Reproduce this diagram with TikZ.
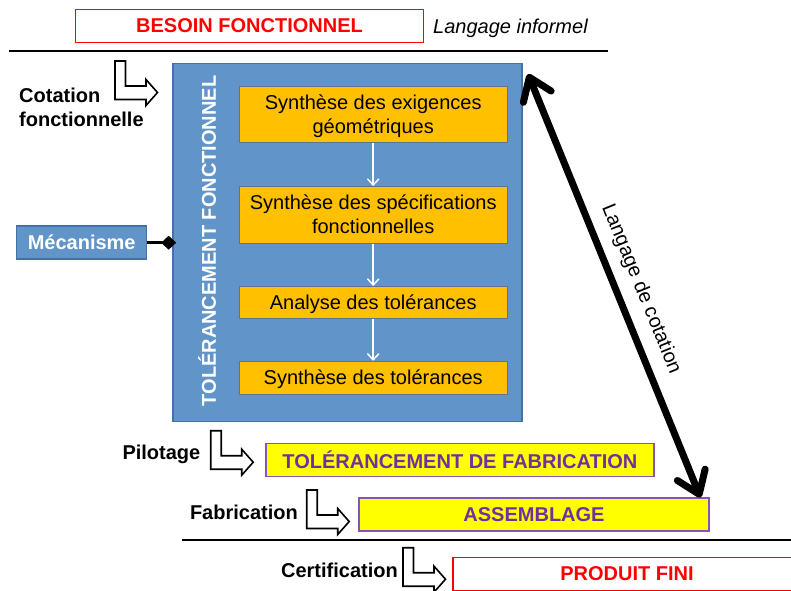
\documentclass[tikz,border=0pt]{standalone}
\usepackage{fontspec}
\setmainfont{Liberation Sans}
\usetikzlibrary{arrows.meta,shapes.geometric}
\definecolor{bred}{RGB}{255,0,0}
\definecolor{bblue}{RGB}{97,149,201}
\definecolor{bblueb}{RGB}{68,114,168}
\definecolor{borange}{RGB}{255,192,0}
\definecolor{borangeb}{RGB}{95,115,145}
\definecolor{byellow}{RGB}{255,255,0}
\definecolor{bpurple}{RGB}{112,48,160}
\definecolor{bpurpleb}{RGB}{135,85,185}
\begin{document}
\begin{tikzpicture}[x=1pt,y=-1pt,
  every node/.style={font=\fontsize{20}{24}\selectfont, inner sep=0pt},
  redbox/.style={draw=bred, line width=1.8pt, fill=white, minimum width=348pt, minimum height=33pt, text=bred, font=\fontsize{20}{24}\selectfont\bfseries},
  yelbox/.style={draw=bpurpleb, line width=1.8pt, fill=byellow, minimum height=33pt, text=bpurple, font=\fontsize{20}{24}\selectfont\bfseries},
  bluebox/.style={draw=bblueb, line width=1.5pt, fill=bblue},
  orbox/.style={draw=borangeb, line width=0.8pt, fill=borange, minimum width=268pt, align=center},
  oneline/.style={text height=14.3pt, text depth=0pt},
  twoline/.style={text height=37.6pt, text depth=0pt},
  lbl/.style={font=\fontsize{20}{24}\selectfont\bfseries},
  flow/.style={draw=white, line width=1.5pt, -{Straight Barb[length=6pt,width=11pt,line cap=round,line join=round]}},
  bigtip/.tip={Straight Barb[length=21pt,width=30pt,line cap=round,line join=round]},
  larrow/.pic={\draw[black, fill=white, line width=1.6pt, line join=miter]
     (0,0) -- (10.5,0) -- (10.5,25) -- (31,25) -- (31,18.5) -- (42.5,31.5) -- (31,44.5) -- (31,38.5) -- (0,38.5) -- cycle;}
]
\useasboundingbox (0,0) rectangle (791,590);
\clip (0,0) rectangle (791,590);

% top
\node[redbox] (besoin) at (249.5,26) {BESOIN FONCTIONNEL};
\node[anchor=base west, font=\fontsize{20}{24}\selectfont\itshape] (informel) at (433,33.5) {Langage informel};
\draw[line width=2pt] (8.5,50.7) -- (607.5,50.7);

% blue block
\node[bluebox, minimum width=349pt, minimum height=358pt] (tol) at (347.4,242.5) {};
\node[rotate=90, text=white, font=\fontsize{20}{24}\selectfont\bfseries] (toltxt) at (207,241) {TOLÉRANCEMENT FONCTIONNEL};
\node[orbox, twoline, minimum height=56pt] (s1) at (373.2,114.7) {Synthèse des exigences\\géométriques};
\node[orbox, twoline, minimum height=57pt] (s2) at (373.2,214.7) {Synthèse des spécifications\\fonctionnelles};
\node[orbox, oneline, minimum height=32pt] (s3) at (373.2,302.2) {Analyse des tolérances};
\node[orbox, oneline, minimum height=33pt] (s4) at (373.2,377.5) {Synthèse des tolérances};
\draw[flow] (s1.south) -- (s2.north);
\draw[flow] (s2.south) -- (s3.north);
\draw[flow] (s3.south) -- (s4.north);

% mecanisme
\node[bluebox, minimum width=130pt, minimum height=33pt, text=white, font=\fontsize{20}{24}\selectfont\bfseries] (meca) at (81.7,242.7) {Mécanisme};
\draw[line width=2.5pt, -{Diamond[length=15pt,width=14pt]}, shorten >=-4pt] (meca.east) -- (meca.east -| tol.west);

% cotation fonctionnelle
\node[lbl, anchor=west, align=left] (cotf) at (19,107) {Cotation\\fonctionnelle};
\pic at (115,61) {larrow};

% lower levels
\node[yelbox, minimum width=388pt] (tfab) at (459.9,460) {TOLÉRANCEMENT DE FABRICATION};
\node[lbl, anchor=base east] (pilot) at (200.5,459.3) {Pilotage};
\pic at (210.7,430.7) {larrow};

\node[yelbox, minimum width=350pt] (assem) at (534,514.3) {ASSEMBLAGE};
\node[lbl, anchor=base east] (fabr) at (298,519.3) {Fabrication};
\pic at (306.7,490) {larrow};

\draw[line width=2pt] (182,539.5) -- (791,539.5);

\node[redbox] (produit) at (627,574) {PRODUIT FINI};
\node[lbl, anchor=base east] (certif) at (398,577) {Certification};
\pic at (403,547.7) {larrow};

% langage de cotation
\coordinate (lc1) at (528,74);
\coordinate (lc2) at (700.5,497.5);
\draw[line width=7pt, {bigtip}-{bigtip}] (lc1) -- (lc2);
\node[rotate=-67.8] (lcot) at (641,289) {Langage de cotation};
\end{tikzpicture}
\end{document}
